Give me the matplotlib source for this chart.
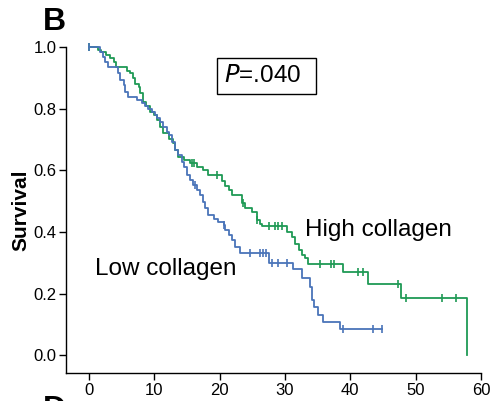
import numpy as np
import matplotlib
matplotlib.use("Agg")
import matplotlib.pyplot as plt

plt.rcParams['font.family'] = ['Liberation Sans', 'DejaVu Sans']

# High collagen: step times (months) and survival after each step
high_t = [0, 1.4, 1.9, 2.6, 3.2, 3.8, 4.2, 5.8, 6.3, 6.8, 7.1, 7.6, 7.8, 8.3, 8.8,
          9.4, 9.9, 10.4, 10.9, 11.4, 12.2, 12.9, 13.2, 13.7, 14.5, 15.5, 16.5,
          17.5, 18.3, 20.3, 20.9, 21.4, 21.9, 23.4, 23.9, 24.9, 25.7, 26.2, 26.5,
          30.3, 31.1, 31.6, 32.1, 32.6, 33.1, 33.5, 38.9, 42.7, 47.7, 57.8]
high_s = [1.0, 0.99, 0.983, 0.975, 0.963, 0.95, 0.934, 0.923, 0.915, 0.898, 0.88,
          0.87, 0.85, 0.82, 0.81, 0.79, 0.78, 0.763, 0.74, 0.72, 0.703, 0.687,
          0.666, 0.644, 0.633, 0.622, 0.61, 0.60, 0.584, 0.565, 0.55, 0.535, 0.52,
          0.495, 0.476, 0.466, 0.438, 0.427, 0.419, 0.40, 0.384, 0.362, 0.341,
          0.325, 0.314, 0.295, 0.27, 0.23, 0.184, 0.0]
high_cens = [0.0, 15.8, 16.1, 19.6, 23.6, 25.8, 27.5, 28.5, 29.0, 29.5, 35.4, 37.1,
             37.5, 41.2, 42.0, 47.3, 48.6, 54.1, 56.1]

# Low collagen
low_t = [0, 1.7, 2.2, 2.45, 3.0, 4.5, 4.75, 5.3, 5.5, 6.0, 7.3, 8.1, 8.6, 9.1, 9.6,
         10.1, 10.4, 10.9, 11.4, 11.9, 12.2, 12.7, 13.2, 13.7, 14.2, 14.5, 15.0,
         15.5, 16.0, 16.5, 17.0, 17.5, 17.8, 18.3, 19.1, 19.8, 20.6, 20.9, 21.4,
         21.9, 22.4, 23.2, 27.5, 31.2, 32.6, 33.9, 34.1, 34.4, 35.0, 35.9, 38.5]
low_s = [1.0, 0.985, 0.969, 0.952, 0.936, 0.915, 0.893, 0.877, 0.855, 0.838, 0.828,
         0.817, 0.81, 0.80, 0.79, 0.78, 0.768, 0.757, 0.74, 0.725, 0.714, 0.693,
         0.666, 0.65, 0.628, 0.611, 0.584, 0.568, 0.552, 0.536, 0.52, 0.498, 0.476,
         0.455, 0.443, 0.433, 0.422, 0.406, 0.39, 0.373, 0.352, 0.333, 0.30, 0.281,
         0.249, 0.222, 0.179, 0.157, 0.13, 0.108, 0.086]
low_end = 44.8
low_cens = [0.0, 16.3, 20.6, 24.7, 26.2, 26.7, 27.1, 28.0, 28.9, 30.3, 38.9, 43.4, 44.8]

green = '#1f9a55'
blue = '#4a74b9'


def surv_at(t, times, surv):
    i = np.searchsorted(times, t, side='right') - 1
    return surv[max(i, 0)]


fig = plt.figure(figsize=(4.90, 4.01), dpi=100)
ax = fig.add_axes([66/490, 1-373/401, (481-66)/490, (373-47)/401])

# green curve
ax.step(high_t, high_s, where='post', color=green, lw=1.3, clip_on=False, zorder=3)
ax.plot(high_cens, [surv_at(t, high_t, high_s) for t in high_cens], ls='none',
        marker='|', ms=6, mew=1.2, color=green, clip_on=False, zorder=3)

# blue curve
ax.step(low_t + [low_end], low_s + [low_s[-1]], where='post', color=blue, lw=1.3,
        clip_on=False, zorder=3)
ax.plot(low_cens, [surv_at(t, low_t, low_s) for t in low_cens], ls='none',
        marker='|', ms=6, mew=1.2, color=blue, clip_on=False, zorder=3)

ax.set_xlim(-3.5, 60)
ax.set_ylim(-0.058, 1.0)
ax.set_xticks(np.arange(0, 61, 10))
ax.set_yticks(np.arange(0, 1.01, 0.2))
ax.set_yticklabels([f"{v:.1f}" for v in np.arange(0, 1.01, 0.2)])
ax.spines['top'].set_visible(False)
ax.spines['right'].set_visible(False)
ax.tick_params(labelsize=12, length=5, width=1, pad=2)
for s in ax.spines.values():
    s.set_linewidth(1)

ax.set_ylabel("Survival", fontsize=15, fontweight='bold', labelpad=2)

ax.text(27.2, 0.906, r"$\it{P}$=.040  ", fontsize=17.5, ha='center', va='center',
        bbox=dict(boxstyle='square,pad=0.3', fc='white', ec='black', lw=1))
ax.text(33.1, 0.406, "High collagen", fontsize=17.5, ha='left', va='center')
ax.text(0.9, 0.28, "Low collagen", fontsize=17.5, ha='left', va='center')

fig.text(43/490, 1-30/401, "B", fontsize=23, fontweight='bold', ha='left', va='baseline')
fig.text(43/490, 1-418/401, "D", fontsize=23, fontweight='bold', ha='left', va='baseline')

fig.savefig("out.png", dpi=100)
